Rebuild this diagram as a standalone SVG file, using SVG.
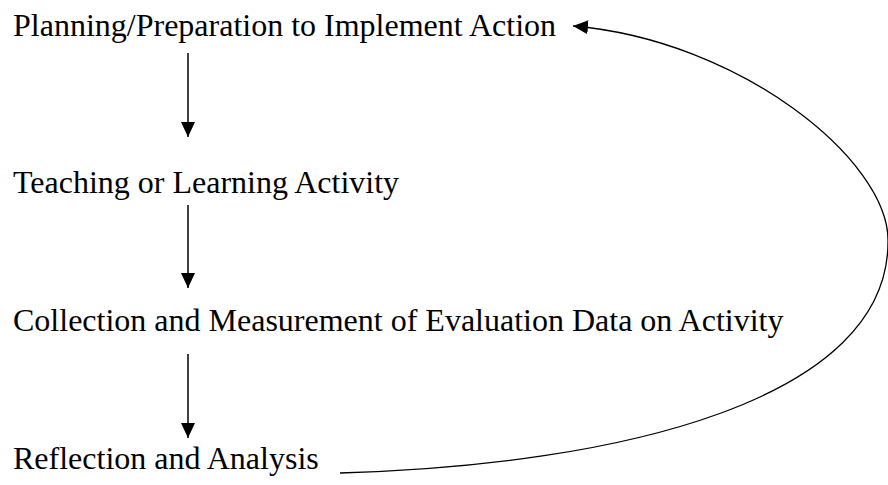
<svg xmlns="http://www.w3.org/2000/svg" width="888" height="485" viewBox="0 0 888 485">
<style>
.t{font-family:"Liberation Serif","Times New Roman",serif;font-size:32px;fill:#000}
.c{fill:none;stroke:#000;stroke-width:1.5}
.cv{fill:none;stroke:#000;stroke-width:1.3}
</style>
<defs>
<marker id="ah" markerWidth="16" markerHeight="14" refX="15" refY="7" orient="auto" markerUnits="userSpaceOnUse">
<path d="M0,0 L15,7 L0,14 Z" fill="#000"/>
</marker>
</defs>
<rect width="888" height="485" fill="#fff"/>
<g id="n1"><text class="t" x="13" y="36">Planning/Preparation to Implement Action</text></g>
<g id="n2"><text class="t" x="13" y="193">Teaching or Learning Activity</text></g>
<g id="n3"><text class="t" x="13" y="331">Collection and Measurement of Evaluation Data on Activity</text></g>
<g id="n4"><text class="t" x="13" y="469">Reflection and Analysis</text></g>
<g id="connectors">
<line class="c" x1="188" y1="53" x2="188" y2="137" marker-end="url(#ah)"/>
<line class="c" x1="188" y1="205" x2="188" y2="288" marker-end="url(#ah)"/>
<line class="c" x1="188" y1="354" x2="188" y2="438" marker-end="url(#ah)"/>
<path class="cv" d="M340,473 C620,465 890,400 888,240 C888,160 740,40 573,26" marker-end="url(#ah)"/>
</g>
</svg>
